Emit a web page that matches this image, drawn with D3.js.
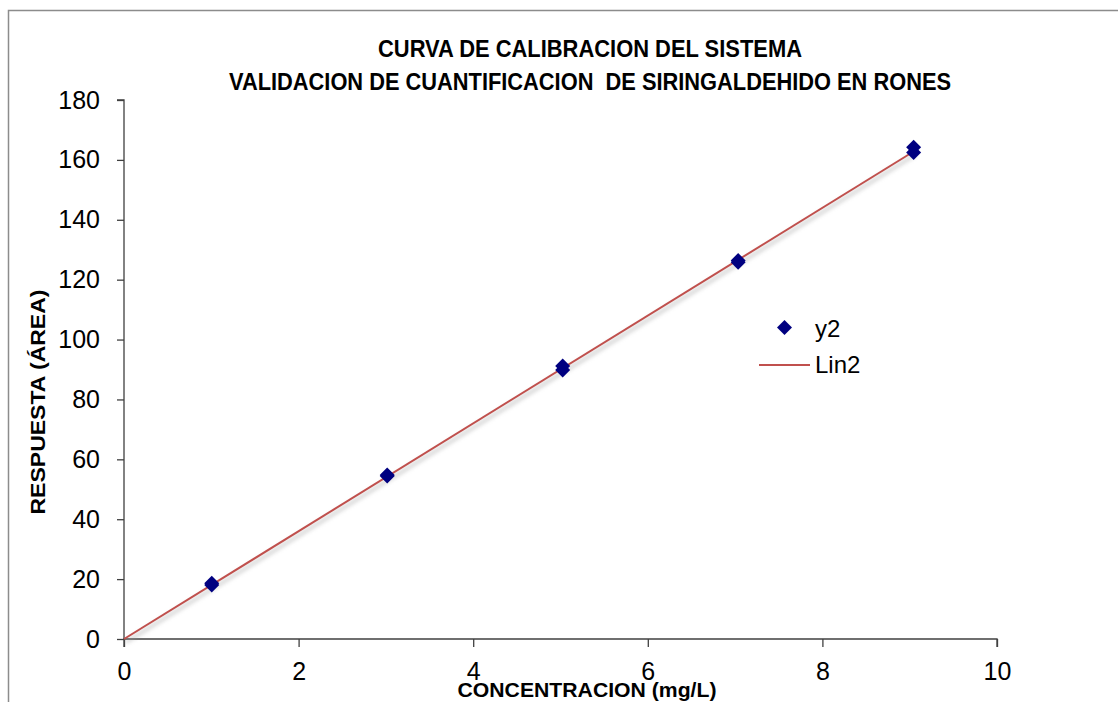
<!DOCTYPE html>
<html><head><meta charset="utf-8">
<script src="https://cdn.jsdelivr.net/npm/d3@7"></script>
<style>body{margin:0;background:#fff}svg{display:block}.ttl{white-space:pre}</style>
</head><body>
<svg id="c" width="1118" height="702"></svg>
<script>
const xVals = [1.005, 1.005, 3.015, 3.015, 5.025, 5.025, 7.035, 7.035, 9.045, 9.045];
const yVals = [18.0, 18.6, 54.4, 54.8, 89.8, 91.2, 125.8, 126.4, 162.5, 164.2];
const linX = [0, 9.045];
const linY = [0, 162.8];
const xTicks = [0, 2, 4, 6, 8, 10];
const yTicks = [0, 20, 40, 60, 80, 100, 120, 140, 160, 180];
const titleLines = ["CURVA DE CALIBRACION DEL SISTEMA", "VALIDACION DE CUANTIFICACION  DE SIRINGALDEHIDO EN RONES"];
const xLabel = "CONCENTRACION (mg/L)";
const yLabel = "RESPUESTA (ÁREA)";
const legendNames = ["y2", "Lin2"];

const svg = d3.select("#c");
const F = "Liberation Sans, Arial, sans-serif";
const defs = svg.append("defs");
const f = defs.append("filter").attr("id","sh").attr("x","-10%").attr("y","-10%").attr("width","120%").attr("height","120%");
f.append("feGaussianBlur").attr("stdDeviation", 2);

// frame
svg.append("rect").attr("x",8.5).attr("y",10.5).attr("width",1130).attr("height",720)
  .attr("fill","none").attr("stroke","#8c8c8c").attr("stroke-width",1.5);

const x = d3.scaleLinear().domain([0,10]).range([124,997]);
const y = d3.scaleLinear().domain([0,180]).range([639,100]);

const xa = svg.append("g").attr("transform","translate(0,639)")
  .call(d3.axisBottom(x).tickValues(xTicks).tickSize(8).tickPadding(15).tickFormat(d3.format("d")));
const ya = svg.append("g").attr("transform","translate(124,0)")
  .call(d3.axisLeft(y).tickValues(yTicks).tickSize(7).tickPadding(17).tickFormat(d3.format("d")));
[xa, ya].forEach(a => {
  a.selectAll("path,line").attr("stroke","#404040").attr("stroke-width",1.3);
  a.selectAll("text").attr("font-family",F).attr("font-size",25).attr("fill","#000");
});
xa.selectAll(".tick text").attr("dy","0.71em");
xa.select(".domain").attr("d","M124,8V0H997V8");
ya.select(".domain").attr("d","M-7,100H0V639");

// trend line with shadow
const lineGen = d3.line().x(d=>x(d[0])).y(d=>y(d[1]));
const lp = linX.map((v,i)=>[v, linY[i]]);
svg.append("path").attr("d", lineGen(lp)).attr("transform","translate(2,3)")
  .attr("stroke","#999").attr("stroke-width",3).attr("fill","none").attr("opacity",0.5).attr("filter","url(#sh)");
svg.append("path").attr("d", lineGen(lp)).attr("stroke","#c0504d").attr("stroke-width",2).attr("fill","none");

// points
svg.append("g").selectAll("path").data(xVals.map((v,i)=>[v,yVals[i]])).join("path")
  .attr("d", d3.symbol().type(d3.symbolSquare).size(112))
  .attr("transform", d=>`translate(${x(d[0])},${y(d[1])}) rotate(45)`)
  .attr("fill","#000080");

// title
svg.append("g").selectAll("text").data(titleLines).join("text")
  .attr("class","ttl")
  .attr("x",590).attr("y",(d,i)=>57+i*33).attr("text-anchor","middle")
  .attr("font-family",F).attr("font-weight","bold").attr("font-size",24)
  .attr("textLength",(d,i)=>i?722:424).attr("lengthAdjust","spacingAndGlyphs").text(d=>d);

// axis labels
svg.append("text").attr("x",587).attr("y",697).attr("text-anchor","middle")
  .attr("font-family",F).attr("font-weight","bold").attr("font-size",21)
  .attr("textLength",259).attr("lengthAdjust","spacingAndGlyphs").text(xLabel);
svg.append("text").attr("transform","translate(45,402) rotate(-90)").attr("text-anchor","middle")
  .attr("font-family",F).attr("font-weight","bold").attr("font-size",21)
  .attr("textLength",225).attr("lengthAdjust","spacingAndGlyphs").text(yLabel);

// legend
const lg = svg.append("g");
lg.append("path").attr("d", d3.symbol().type(d3.symbolSquare).size(112)())
  .attr("transform","translate(784.5,327.5) rotate(45)").attr("fill","#000080");
lg.append("line").attr("x1",759).attr("x2",810).attr("y1",365).attr("y2",365)
  .attr("stroke","#c0504d").attr("stroke-width",2);
lg.selectAll("text").data(legendNames).join("text")
  .attr("x",815).attr("y",(d,i)=>337+i*36).attr("font-family",F).attr("font-size",24).text(d=>d);
</script>
</body></html>
